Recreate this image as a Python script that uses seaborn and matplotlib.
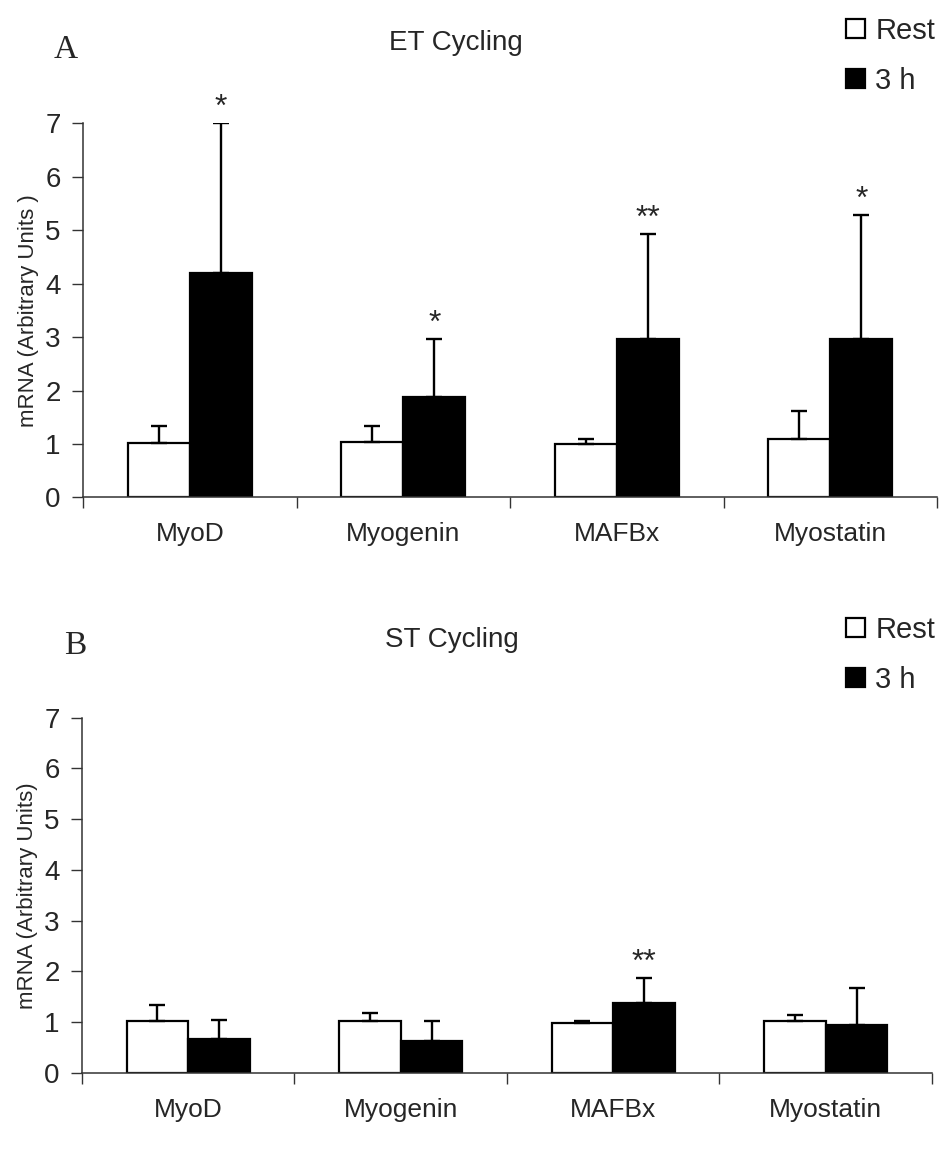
import numpy as np
import pandas as pd
import matplotlib.pyplot as plt
import seaborn as sns

genes = ["MyoD", "Myogenin", "MAFBx", "Myostatin"]
groups = ["Rest", "3 h"]

# panel A - ET cycling
et_rest = [1.02, 1.03, 1.00, 1.09]
et_rest_err = [0.32, 0.31, 0.09, 0.52]
et_3h = [4.19, 1.87, 2.96, 2.96]
et_3h_err = [2.81, 1.09, 1.97, 2.32]
et_stars = ["*", "*", "**", "*"]

# panel B - ST cycling
st_rest = [1.02, 1.01, 0.99, 1.01]
st_rest_err = [0.31, 0.17, 0.02, 0.12]
st_3h = [0.66, 0.63, 1.37, 0.94]
st_3h_err = [0.38, 0.39, 0.50, 0.74]
st_stars = ["", "", "**", ""]

sns.set_style("white")
plt.rcParams["font.family"] = ["Liberation Sans", "DejaVu Sans"]

fig = plt.figure(figsize=(9.39, 11.51), dpi=100)
ax_a = fig.add_axes([0.0884, 0.5678, 0.9095, 0.3251])
ax_b = fig.add_axes([0.0873, 0.0680, 0.9052, 0.3085])


def panel(ax, rest, rest_err, h3, h3_err, stars, ylabel, leg_top):
    df = pd.DataFrame({
        "gene": genes * 2,
        "time": ["Rest"] * len(genes) + ["3 h"] * len(genes),
        "mRNA": rest + h3,
    })
    sns.barplot(data=df, x="gene", y="mRNA", hue="time", order=genes,
                hue_order=groups, palette={"Rest": "white", "3 h": "black"},
                edgecolor="black", linewidth=1.6, width=0.58, errorbar=None,
                ax=ax, zorder=2)

    # one-sided (upper) error bars
    for cont, err in zip(ax.containers, [rest_err, h3_err]):
        xs = [b.get_x() + b.get_width() / 2 for b in cont]
        ys = [b.get_height() for b in cont]
        ax.errorbar(xs, ys, yerr=[np.zeros(len(err)), err], fmt="none",
                    ecolor="black", elinewidth=1.7, capsize=6, capthick=1.7,
                    zorder=3)

    for b, e, s in zip(ax.containers[1], h3_err, stars):
        if s:
            ax.annotate(s, (b.get_x() + b.get_width() / 2, b.get_height() + e),
                        xytext=(0, 0), textcoords="offset points",
                        ha="center", va="bottom", fontsize=23)

    ax.set_xlim(-0.5, 3.5)
    ax.set_ylim(0, 7)
    ax.set_yticks(range(8))
    ax.set_xlabel("")
    ax.set_ylabel(ylabel, fontsize=16)
    ax.yaxis.set_label_coords(-0.052, 0.5)
    ax.set_xticks(np.arange(-0.5, 4, 1), minor=True)
    ax.tick_params(axis="x", which="major", length=0, pad=18, labelsize=19)
    ax.tick_params(axis="x", which="minor", length=8, width=1,
                   direction="out", color="#333333", bottom=True)
    ax.tick_params(axis="y", length=8, width=1, direction="out",
                   color="#333333", left=True, pad=8, labelsize=20)
    for side in ["top", "right"]:
        ax.spines[side].set_visible(False)
    for side in ["left", "bottom"]:
        ax.spines[side].set_color("#333333")
        ax.spines[side].set_linewidth(1.1)

    handles, labels = ax.get_legend_handles_labels()
    ax.legend(handles, labels, loc="upper left",
              bbox_to_anchor=(846 / 939, leg_top), bbox_transform=fig.transFigure,
              frameon=False, fontsize=21, handlelength=0.65, handleheight=0.65,
              handletextpad=0.35, labelspacing=0.75, borderpad=0,
              borderaxespad=0)


panel(ax_a, et_rest, et_rest_err, et_3h, et_3h_err, et_stars,
      "mRNA (Arbitrary Units )", 1 - 17 / 1151)
panel(ax_b, st_rest, st_rest_err, st_3h, st_3h_err, st_stars,
      "mRNA (Arbitrary Units)", 1 - 616 / 1151)

fig.text(456 / 939, 1 - 43 / 1151, "ET Cycling", ha="center", va="center",
         fontsize=20)
fig.text(452 / 939, 1 - 640 / 1151, "ST Cycling", ha="center", va="center",
         fontsize=20)
fig.text(54 / 939, 1 - 50 / 1151, "A", ha="left", va="center",
         fontsize=24, family="Liberation Serif")
fig.text(64 / 939, 1 - 646 / 1151, "B", ha="left", va="center",
         fontsize=24, family="Liberation Serif")

fig.savefig("out.png", dpi=100)
